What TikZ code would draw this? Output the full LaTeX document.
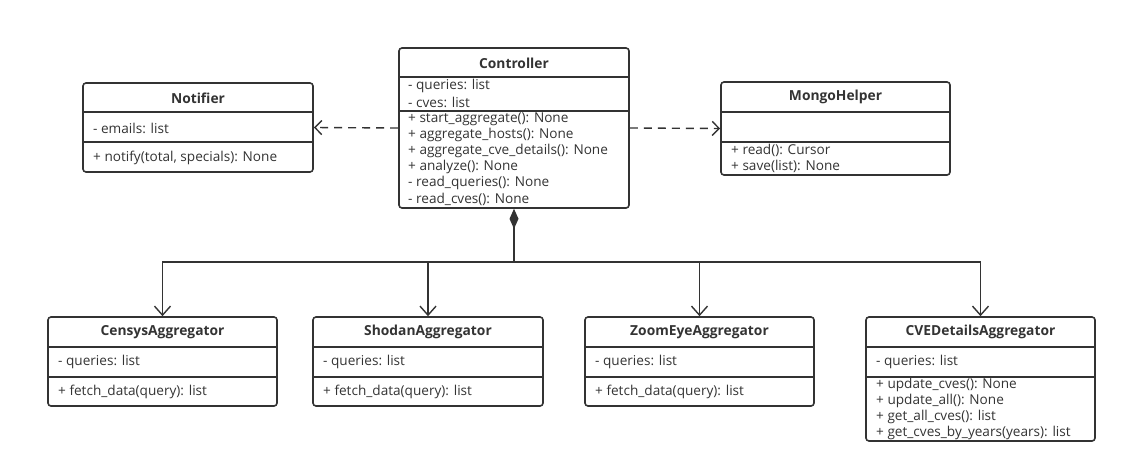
\documentclass[tikz,border=0pt]{standalone}
\usepackage{fontspec}
\setmainfont{Open Sans}
\usetikzlibrary{arrows.meta}
\definecolor{umlline}{HTML}{333333}
\tikzset{
	umlbox/.style={draw=umlline, line width=1.6pt, rounded corners=3pt, inner sep=0pt},
	title/.style={font=\fontsize{13.8}{16}\selectfont\bfseries, text=umlline},
	member/.style={anchor=west, inner sep=0pt, font=\fontsize{13.6}{16}\selectfont, text=umlline},
	divider/.style={draw=umlline, line width=1.3pt},
	depend/.style={draw=umlline, line width=1.4pt, dash pattern=on 8pt off 6pt, -{Straight Barb[length=7pt, width=14pt]}},
	compo/.style={draw=umlline, line width=1.4pt, -{Straight Barb[length=9pt, width=16pt]}}
}
\begin{document}
\begin{tikzpicture}[x=1pt, y=-1pt]
	\useasboundingbox (0,0) rectangle (1127,474);
	% Controller
	\node[umlbox, minimum width=230pt, minimum height=160pt](ctrl) at (514,128){};
	\node[title](ctrltitle) at (514,63){Controller};
	\draw[divider](399,77)--(629,77);
	\draw[divider](399,111)--(629,111);
	\node[member](c1) at (408,86){- queries: list};
	\node[member](c2) at (408,102){- cves: list};
	\node[member](c3) at (408,119){+ start\_aggregate(): None};
	\node[member](c4) at (408,135){+ aggregate\_hosts(): None};
	\node[member](c5) at (408,151){+ aggregate\_cve\_details(): None};
	\node[member](c6) at (408,167){+ analyze(): None};
	\node[member](c7) at (408,183){- read\_queries(): None};
	\node[member](c8) at (408,199){- read\_cves(): None};
	% Notifier
	\node[umlbox, minimum width=230pt, minimum height=89pt](notif) at (198,127.5){};
	\node[title](notiftitle) at (198,98){Notifier};
	\draw[divider](83,112)--(313,112);
	\draw[divider](83,142)--(313,142);
	\node[member](n1) at (93,128){- emails: list};
	\node[member](n2) at (93,158){+ notify(total, specials): None};
	% MongoHelper
	\node[umlbox, minimum width=229pt, minimum height=93pt](mongo) at (835.5,128.5){};
	\node[title](mongotitle) at (835.5,97){MongoHelper};
	\draw[divider](721,112)--(950,112);
	\draw[divider](721,142)--(950,142);
	\node[member](m1) at (731,150){+ read(): Cursor};
	\node[member](m2) at (731,166){+ save(list): None};
	% CensysAggregator
	\node[umlbox, minimum width=229pt, minimum height=89pt](censys) at (162.5,361.5){};
	\node[title](censystitle) at (162.5,332){CensysAggregator};
	\draw[divider](48,347)--(277,347);
	\draw[divider](48,377)--(277,377);
	\node[member](s1) at (58,362){- queries: list};
	\node[member](s2) at (58,392){+ fetch\_data(query): list};
	% ShodanAggregator
	\node[umlbox, minimum width=230pt, minimum height=89pt](shodan) at (428,361.5){};
	\node[title](shodantitle) at (428,332){ShodanAggregator};
	\draw[divider](313,347)--(543,347);
	\draw[divider](313,377)--(543,377);
	\node[member](h1) at (323,362){- queries: list};
	\node[member](h2) at (323,392){+ fetch\_data(query): list};
	% ZoomEyeAggregator
	\node[umlbox, minimum width=229pt, minimum height=89pt](zoomeye) at (699.5,361.5){};
	\node[title](zoomeyetitle) at (699.5,332){ZoomEyeAggregator};
	\draw[divider](585,347)--(814,347);
	\draw[divider](585,377)--(814,377);
	\node[member](z1) at (595,362){- queries: list};
	\node[member](z2) at (595,392){+ fetch\_data(query): list};
	% CVEDetailsAggregator
	\node[umlbox, minimum width=229pt, minimum height=124pt](cvedet) at (980.5,379){};
	\node[title](cvedettitle) at (980.5,332){CVEDetailsAggregator};
	\draw[divider](866,347)--(1095,347);
	\draw[divider](866,377)--(1095,377);
	\node[member](d1) at (876,362){- queries: list};
	\node[member](d2) at (876,385){+ update\_cves(): None};
	\node[member](d3) at (876,401){+ update\_all(): None};
	\node[member](d4) at (876,417){+ get\_all\_cves(): list};
	\node[member](d5) at (876,433){+ get\_cves\_by\_years(years): list};
	% dependencies
	\draw[depend](ctrl.west)--(notif.east);
	\draw[depend](ctrl.east)--(mongo.west);
	% composition
	\coordinate(hub) at (514,262);
	\draw[draw=umlline, line width=1.4pt, {Diamond[length=20pt, width=9pt]}-](ctrl.south)--(hub);
	\draw[compo](hub)-|(censys.north);
	\draw[compo](hub)-|(shodan.north);
	\draw[compo](hub)-|(zoomeye.north);
	\draw[compo](hub)-|(cvedet.north);
\end{tikzpicture}
\end{document}
